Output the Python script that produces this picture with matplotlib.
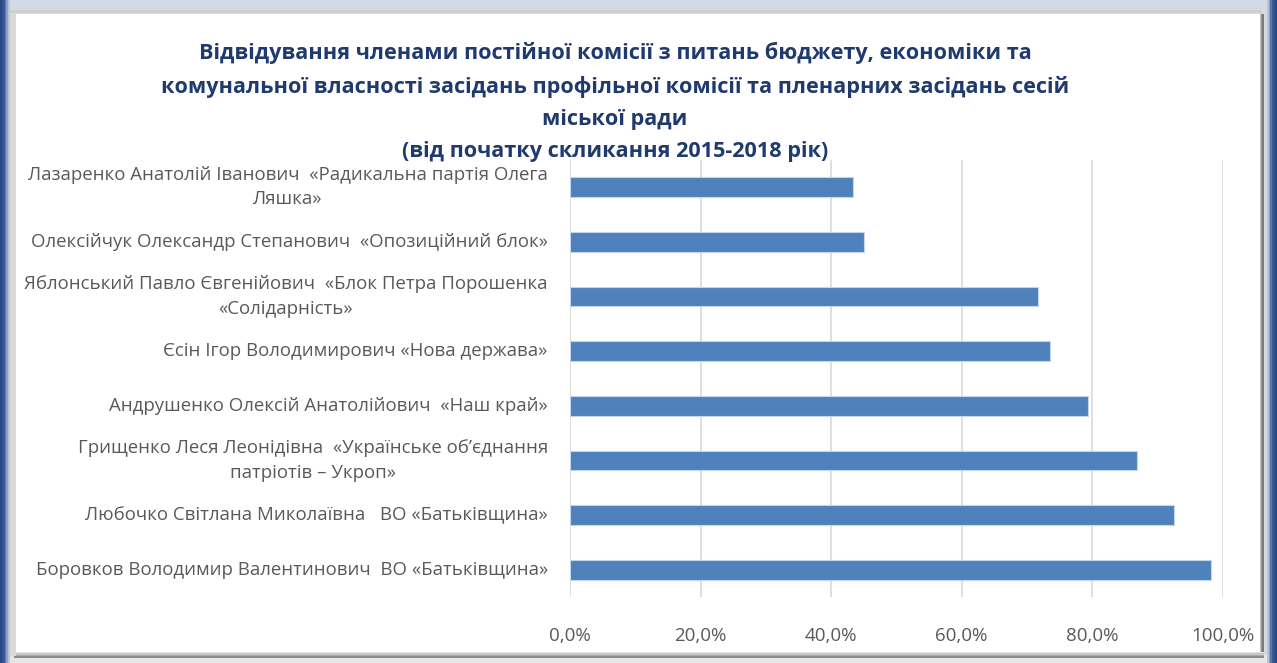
import matplotlib
matplotlib.use("Agg")
import matplotlib.pyplot as plt
from matplotlib.patches import Rectangle
import numpy as np

plt.rcParams['font.family'] = ['Open Sans', 'DejaVu Sans']

names = [
    "Боровков Володимир Валентинович  ВО «Батьківщина»",
    "Любочко Світлана Миколаївна   ВО «Батьківщина»",
    "Грищенко Леся Леонідівна  «Українське об’єднання\nпатріотів – Укроп»",
    "Андрушенко Олексій Анатолійович  «Наш край»",
    "Єсін Ігор Володимирович «Нова держава»",
    "Яблонський Павло Євгенійович  «Блок Петра Порошенка\n«Солідарність»",
    "Олексійчук Олександр Степанович  «Опозиційний блок»",
    "Лазаренко Анатолій Іванович  «Радикальна партія Олега\nЛяшка»",
]
attendance = [0.982, 0.925, 0.868, 0.793, 0.736, 0.717, 0.451, 0.434]
xticks = [0.0, 0.2, 0.4, 0.6, 0.8, 1.0]
xtick_labels = ["0,0%", "20,0%", "40,0%", "60,0%", "80,0%", "100,0%"]
title = ("Відвідування членами постійної комісії з питань бюджету, економіки та\n"
         "комунальної власності засідань профільної комісії та пленарних засідань сесій\n"
         "міської ради\n"
         "(від початку скликання 2015-2018 рік)")

W, H = 1277, 663
fig = plt.figure(figsize=(W / 100, H / 100), dpi=100)
fig.patch.set_facecolor('white')

# background frame
bg = fig.add_axes([0, 0, 1, 1], zorder=-10)
bg.set_xlim(0, W)
bg.set_ylim(H, 0)
bg.axis('off')
bg.add_patch(Rectangle((0, 0), W, H, color='#d3dae6'))
for i, c in enumerate(['#2a4682', '#2f4d8b', '#3a5a96', '#5a76a8', '#8d9fc2', '#b9c4d9']):
    bg.add_patch(Rectangle((i * 1.6, 0), 1.6, H, color=c, lw=0))
for i, c in enumerate(['#b9c4d9', '#8d9fc2', '#5a76a8', '#3a5a96', '#2f4d8b', '#2a4682']):
    bg.add_patch(Rectangle((W - 10 + i * 1.7, 0), 1.7, H, color=c, lw=0))
bg.add_patch(Rectangle((10, H - 8), W - 20, 8, color='#e6e6e6', lw=0))
for i, c in enumerate(['#7a7a7a', '#9a9a9a', '#bdbdbd', '#dcdcdc']):
    bg.add_patch(Rectangle((1262 - i * 1.5, 14), 1.5, H - 22, color=c, lw=0))
for i, c in enumerate(['#8a8a8a', '#a8a8a8', '#c8c8c8', '#e2e2e2']):
    bg.add_patch(Rectangle((14, 656 - i * 1.5), 1250, 1.5, color=c, lw=0))
bg.add_patch(Rectangle((10, 12), 6, 644, color='#d9d9d9', lw=0))
bg.add_patch(Rectangle((10, 10), 1252, 3, color='#cfcfcf', lw=0))
bg.add_patch(Rectangle((16, 14), 1244, 638, color='white', lw=0))

ax = fig.add_axes([570 / W, 1 - 597.4 / H, (1222.7 - 570) / W, (597.4 - 159.6) / H])
ax.set_facecolor('none')
y = np.arange(len(names))
ax.barh(y, attendance, height=0.36, color='#4f81bd', edgecolor='#c5d5ea', linewidth=0.8, zorder=3)
ax.set_xlim(0, 1.0)
ax.set_ylim(-0.5, len(names) - 0.5)
ax.set_xticks(xticks)
ax.set_xticklabels(xtick_labels, color='#595959', fontsize=13.5)
ax.set_yticks(y)
ax.set_yticklabels(names, color='#595959', fontsize=13.4, multialignment='center',
                   linespacing=1.45, va='center')
ax.tick_params(axis='both', length=0)
ax.tick_params(axis='x', pad=21)
ax.tick_params(axis='y', pad=16)
ax.grid(axis='x', color='#d9d9d9', linewidth=1.2, zorder=0)
for s in ax.spines.values():
    s.set_visible(False)

fig.text(615 / W, 1 - 41.5 / H, title, ha='center', va='top', fontsize=15.6, fontweight='bold',
         color='#1f3a6e', linespacing=1.70)

fig.savefig('out.png', dpi=100)
